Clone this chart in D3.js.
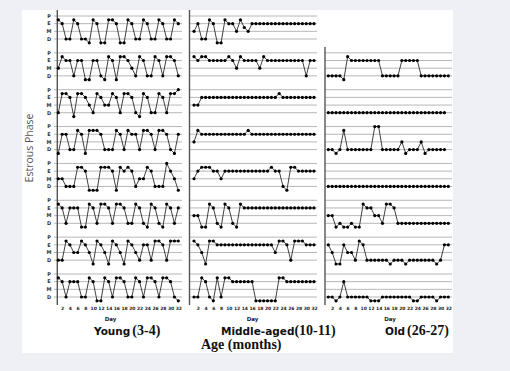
<!DOCTYPE html>
<html>
<head>
<meta charset="utf-8">
<script src="https://cdn.jsdelivr.net/npm/d3@7"></script>
<style>
  body { margin: 0; background: #eef0f5; }
  svg { display: block; }
</style>
</head>
<body>
<svg width="510" height="371"></svg>
<script>
// days of the smear record and the tick labels under each panel
const days = [1,2,3,4,5,6,7,8,9,10,11,12,13,14,15,16,17,18,19,20,21,22,23,24,25,26,27,28,29,30,31,32];
const dayTicks = [2,4,6,8,10,12,14,16,18,20,22,24,26,28,30,32];
// phase levels: D=0, M=1, E=2, P=3 (points drawn between lines read as .5)
const phases = ['D', 'M', 'E', 'P'];

// one array per animal
const youngRows = [
  [2.5,2,0,0,2.5,2,0,0,-0.5,2.5,2,-0.5,-0.5,2.5,2.5,2,-0.5,-0.5,2.5,2,0,0,2.5,2,0,0,2.5,2,0,0,2.5,2],
  [1,2.5,2,2,0,2,2,-0.5,-0.5,2,2,0,-0.5,2.5,2,-0.5,2.5,2.5,2,1,0,2.5,2,0,0,2.5,2,0,2.5,2.5,2,0],
  [0,2.5,2.5,2,-0.5,2.5,2.5,2,1,0,2.5,2,1,1,2.5,2,0,2.5,2.5,2,0,-0.5,2.5,2,0,0,2.5,2,0,2.5,2.5,3],
  [-0.5,2,2,0,0,2.5,2,-0.5,2.5,2.5,2.5,2,0,0,0,2.5,2,0,2.5,2,2,0,2.5,2.5,2,0,2.5,2.5,2,0,-0.5,2],
  [1,1,0,0,0,2.5,2.5,2,-0.5,-0.5,-0.5,2.5,2.5,2.5,2,-0.5,2.5,2,2.5,2,0,1,1,2.5,2,0,0,0,3,2,1,-0.5],
  [2.5,2,0,2,2,2,-0.5,-0.5,2.5,2,0,2.5,2.5,2,0,2.5,2.5,2,0,0,2.5,2,0,-0.5,2.5,2,0,-0.5,2.5,2,0,2],
  [0,0,2.5,2,1,1,2.5,2,1,-0.5,2.5,2,1,-0.5,2.5,2,1,-0.5,2.5,2,1,0,2,2,0,2.5,2.5,2,0,2.5,2.5,2.5],
  [2.5,2,0,2,2,2,0,0,2.5,2,-0.5,-0.5,2.5,2,0,2.5,2.5,2,0,0,2.5,2,0,2.5,2.5,2,0,2.5,2.5,2,0,-0.5]
];

const middleRows = [
  [1,2,0,0,2.5,2,-0.5,-0.5,2.5,2,2,1,2.5,1.5,1,2,2,2,2,2,2,2,2,2,2,2,2,2,2,2,2,2],
  [2.5,2,2.5,2.5,2,2,2,2,2,2.5,2,1,2.5,2,2,2,2,1,2.5,2,2,2,2,2,2,2,2,2,2,0,2,2],
  [1,1,2,2,2,2,2,2,2,2,2,2,2,2,2,2,2,2,2,2,2,2,2.5,2,2,2,2,2,2,2,2,2],
  [1,2.5,2,2,2,2,2,2,2,2,2,2,2,2,2.5,2,2,2,2,2,2,2,2,2,2,2,2,2,2,2,2,2],
  [1,2,2.5,2.5,2.5,2,2,1,2,2,2,2,2,2,2,2,2,2,2,2,2.5,2,2,0,-0.5,2.5,2.5,2,2,2,2,2],
  [1,1,-0.5,-0.5,2.5,2,0,-0.5,2.5,2,0,-0.5,2.5,2,2,2,2,2,2,2,2,2,2,2,2,2,2,2,2,2,2,2],
  [2.5,2,1,-0.5,2.5,2.5,2,2,2,2,2,2,2,2,2,2,2,2,2,2,2,1,2.5,2.5,2,0,2.5,2.5,2.5,2,2,2],
  [0,0,2.5,2,0,-0.5,2.5,0,2.5,2.5,2,2,2,2,2,2,-0.5,-0.5,-0.5,-0.5,-0.5,-0.5,2.5,2.5,2,2,2,2,2,2,2,2]
];

// the old group has seven animals, drawn from the second row down
const oldRows = [
  [0,0,0,0,-0.5,2.5,2,2,2,2,2,2,2,2,0,0,0,0,0,2,2,2,2,2,0,0,0,0,0,0,0,0],
  [0,0,0,0,0,0,0,0,0,0,0,0,0,0,0,0,0,0,0,0,0,0,0,0,0,0,0,0,0,0,0],
  [0,0,-0.5,0,2.5,0,0,0,0,0,0,0,3,3,0,0,0,0,0,1,-0.5,0,0,0,1,-0.5,0,0,0,0,0],
  [0,0,0,0,0,0,0,0,0,0,0,0,0,0,0,0,0,0,0,0,0,0,0,0,0,0,0,0,0,0,0,0],
  [1,1,-0.5,0,-0.5,-0.5,0,-0.5,-0.5,2.5,2,2,1,1,0,2.5,2.5,2,0,0,0,0,0,0,0,0,0,0,0,0,0,0],
  [2,1,-0.5,-0.5,2,1,1,0,2.5,2,0,0,0,0,0,0,-0.5,0,0,0,-0.5,0,0,0,0,0,0,0,-0.5,0,2,2],
  [0,0,-0.5,0,2,0,0,0,0,0,0,-0.5,-0.5,-0.5,0,0,0,0,0,0,0,0,-0.5,-0.5,0,0,0,0,-0.5,0,0,0]
];

const svg = d3.select('svg');

// white figure area
svg.append('rect')
  .attr('x', 22).attr('y', 10)
  .attr('width', 431).attr('height', 343)
  .attr('fill', '#fff');

const rowTop = d3.scaleLinear().domain([0, 7]).range([16, 274]);
const yPhase = d3.scaleLinear().domain([3, 0]).range([0, 23]);

const panels = [
  {rows: youngRows, first: 0, x0: 58.3, x1: 178.3, axisX: 57.3, gridFrom: 54, gridTo: 182, top: 10,
   letters: true, dayX: 110.5, name: 'Young', age: '(3-4)', titleX: 94, anchor: 'start'},
  {rows: middleRows, first: 0, x0: 194, x1: 314, axisX: 189.5, gridFrom: 189.5, gridTo: 317, top: 10,
   letters: false, dayX: 252.5, name: 'Middle-aged', age: '(10-11)', titleX: 221, anchor: 'start'},
  {rows: oldRows, first: 1, x0: 328.3, x1: 448.3, axisX: 325, gridFrom: 325, gridTo: 452, top: 47,
   letters: false, dayX: 390, name: 'Old', age: '(26-27)', titleX: 449, anchor: 'end'}
];

panels.forEach(p => {
  const x = d3.scaleLinear().domain([1, 32]).range([p.x0, p.x1]);
  const g = svg.append('g');

  // phase gridlines for every row
  p.rows.forEach((vals, i) => {
    const top = rowTop(i + p.first);
    g.selectAll(null).data(phases).enter().append('line')
      .attr('x1', p.gridFrom).attr('x2', p.gridTo)
      .attr('y1', (d, k) => top + yPhase(k))
      .attr('y2', (d, k) => top + yPhase(k))
      .attr('stroke', '#a5a5a5')
      .attr('stroke-width', 0.8);

    if (p.letters) {
      g.selectAll(null).data(phases).enter().append('text')
        .attr('x', 49).attr('y', (d, k) => top + yPhase(k) + 1.8)
        .attr('text-anchor', 'middle')
        .attr('font-family', 'DejaVu Sans, sans-serif')
        .attr('font-weight', 'bold')
        .attr('font-size', 5)
        .attr('fill', '#333')
        .text(d => d);
    }
  });

  // vertical axis line
  g.append('line')
    .attr('x1', p.axisX).attr('x2', p.axisX)
    .attr('y1', p.top).attr('y2', 305)
    .attr('stroke', '#555')
    .attr('stroke-width', 1.4);

  // series
  const line = d3.line()
    .x((d, k) => x(days[k]));

  p.rows.forEach((vals, i) => {
    const top = rowTop(i + p.first);
    g.append('path')
      .datum(vals)
      .attr('d', line.y(d => top + yPhase(d)))
      .attr('fill', 'none')
      .attr('stroke', '#111')
      .attr('stroke-width', 0.8);
    g.selectAll(null).data(vals).enter().append('circle')
      .attr('cx', (d, k) => x(days[k]))
      .attr('cy', d => top + yPhase(d))
      .attr('r', 1.6)
      .attr('fill', '#000');
  });

  // day ticks
  const ax = g.append('g')
    .attr('transform', 'translate(0,306)')
    .call(d3.axisBottom(x).tickValues(dayTicks).tickSize(0).tickPadding(0));
  ax.select('.domain').remove();
  ax.selectAll('text')
    .attr('font-size', 4.5)
    .attr('font-family', 'DejaVu Sans, sans-serif')
    .attr('font-weight', 'bold')
    .attr('fill', '#222')
    .attr('dy', '0.9em');

  g.append('text')
    .attr('x', p.dayX).attr('y', 321)
    .attr('text-anchor', 'middle')
    .attr('font-family', 'DejaVu Sans, sans-serif')
    .attr('font-weight', 'bold')
    .attr('font-size', 5.5)
    .attr('fill', '#222')
    .text('Day');

  const t = g.append('text')
    .attr('x', p.titleX).attr('y', 335)
    .attr('text-anchor', p.anchor)
    .attr('fill', '#111');
  t.append('tspan')
    .attr('font-family', 'DejaVu Sans, sans-serif')
    .attr('font-weight', 'bold')
    .attr('font-size', 10.5)
    .text(p.name);
  t.append('tspan')
    .attr('dx', p.name === 'Middle-aged' ? 0 : 2)
    .attr('font-family', 'Liberation Serif, serif')
    .attr('font-weight', 'bold')
    .attr('font-size', 14)
    .text(p.age);
});

svg.append('text')
  .attr('x', 201).attr('y', 349)
  .attr('font-family', 'Liberation Serif, serif')
  .attr('font-weight', 'bold')
  .attr('font-size', 14)
  .attr('fill', '#111')
  .text('Age (months)');

svg.append('text')
  .attr('transform', 'translate(33,148) rotate(-90)')
  .attr('text-anchor', 'middle')
  .attr('font-family', 'Open Sans, sans-serif')
  .attr('font-size', 10.5)
  .attr('fill', '#555')
  .text('Estrous Phase');
</script>
</body>
</html>
